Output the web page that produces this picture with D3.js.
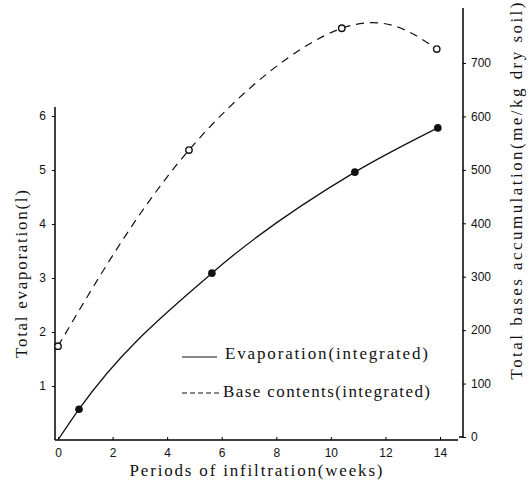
<!DOCTYPE html>
<html>
<head>
<meta charset="utf-8">
<script src="https://cdn.jsdelivr.net/npm/d3@7"></script>
<style>
  body { margin: 0; background: #fff; }
  svg { display: block; }
  .tick text { font-family: "Liberation Sans", Arial, sans-serif; font-size: 12px; fill: #111; }
  .title { font-family: "Liberation Serif", "DejaVu Serif", serif; font-size: 17px; fill: #111; }
</style>
</head>
<body>
<div id="chart"></div>
<script>
var width = 529, height = 483;

// evaporation (integrated), litres, left axis
var evapWeeks = [0, 0.77, 5.64, 10.88, 13.92];
var evapValues = [0, 0.57, 3.09, 4.96, 5.78];
var evapMarked = [false, true, true, true, true];

// base contents (integrated), me/kg dry soil, right axis
var baseWeeks = [0, 4.8, 10.4, 13.88];
var baseValues = [170, 537, 765, 726];

var xTicks = [0, 2, 4, 6, 8, 10, 12, 14];
var yLeftTicks = [1, 2, 3, 4, 5, 6];
var yRightTicks = [0, 100, 200, 300, 400, 500, 600, 700];

var x = d3.scaleLinear().domain([0, 14]).range([58, 440]);
var yL = d3.scaleLinear().domain([0, 6]).range([440, 116]);
var yR = d3.scaleLinear().domain([0, 700]).range([437, 63]);

var svg = d3.select("#chart").append("svg")
  .attr("width", width)
  .attr("height", height);

// bottom axis
var xAxis = svg.append("g")
  .attr("transform", "translate(0,440)")
  .call(d3.axisBottom(x).tickValues(xTicks).tickSize(-3).tickPadding(8).tickSizeOuter(0).tickFormat(d3.format("d")));
xAxis.select(".domain").attr("d", "M55,0H458").attr("stroke-width", 1.5);

// left axis
var leftAxis = svg.append("g")
  .attr("transform", "translate(55,0)")
  .call(d3.axisLeft(yL).tickValues(yLeftTicks).tickSize(3).tickPadding(6).tickSizeOuter(0).tickFormat(d3.format("d")));
leftAxis.select(".domain").attr("d", "M0,107V440").attr("stroke-width", 1.5);

// right axis
var rightAxis = svg.append("g")
  .attr("transform", "translate(463,0)")
  .call(d3.axisRight(yR).tickValues(yRightTicks).tickSize(3).tickPadding(5).tickSizeOuter(0).tickFormat(d3.format("d")));
rightAxis.select(".domain").attr("d", "M-4,437H0V8").attr("stroke-width", 1.5);

// evaporation curve
var evapLine = d3.line()
  .x(function(d, i) { return x(evapWeeks[i]); })
  .y(function(d) { return yL(d); })
  .curve(d3.curveMonotoneX);

svg.append("path")
  .datum(evapValues)
  .attr("fill", "none")
  .attr("stroke", "#111")
  .attr("stroke-width", 1.3)
  .attr("d", evapLine);

svg.append("g").selectAll("circle")
  .data(evapValues.filter(function(d, i) { return evapMarked[i]; }))
  .join("circle")
    .attr("cx", function(d) { return x(evapWeeks[evapValues.indexOf(d)]); })
    .attr("cy", function(d) { return yL(d); })
    .attr("r", 3.8)
    .attr("fill", "#111");

// base contents curve
var baseLine = d3.line()
  .x(function(d, i) { return x(baseWeeks[i]); })
  .y(function(d) { return yR(d); })
  .curve(d3.curveNatural);

svg.append("path")
  .datum(baseValues)
  .attr("fill", "none")
  .attr("stroke", "#111")
  .attr("stroke-width", 1.2)
  .attr("stroke-dasharray", "8,6")
  .attr("d", baseLine);

svg.append("g").selectAll("circle")
  .data(baseValues)
  .join("circle")
    .attr("cx", function(d, i) { return x(baseWeeks[i]); })
    .attr("cy", function(d) { return yR(d); })
    .attr("r", 3.2)
    .attr("fill", "#fff")
    .attr("stroke", "#111")
    .attr("stroke-width", 1.4);

// legend
var legend = svg.append("g");
legend.append("line")
  .attr("x1", 182).attr("x2", 217).attr("y1", 357).attr("y2", 357)
  .attr("stroke", "#111").attr("stroke-width", 1.2);
legend.append("text").attr("class", "title")
  .attr("x", 225).attr("y", 359)
  .attr("textLength", 203).attr("lengthAdjust", "spacing")
  .text("Evaporation(integrated)");
legend.append("line")
  .attr("x1", 182).attr("x2", 220).attr("y1", 393).attr("y2", 393)
  .attr("stroke", "#111").attr("stroke-width", 1.2)
  .attr("stroke-dasharray", "5,3");
legend.append("text").attr("class", "title")
  .attr("x", 223).attr("y", 397)
  .attr("textLength", 207).attr("lengthAdjust", "spacing")
  .text("Base contents(integrated)");

// axis titles
svg.append("text").attr("class", "title")
  .attr("x", 256).attr("y", 476)
  .attr("text-anchor", "middle")
  .attr("textLength", 253).attr("lengthAdjust", "spacing")
  .text("Periods of infiltration(weeks)");

svg.append("text").attr("class", "title")
  .attr("transform", "translate(27,274) rotate(-90)")
  .attr("text-anchor", "middle")
  .attr("textLength", 168).attr("lengthAdjust", "spacing")
  .text("Total evaporation(l)");

svg.append("text").attr("class", "title")
  .attr("transform", "translate(522,191) rotate(-90)")
  .attr("text-anchor", "middle")
  .attr("textLength", 377).attr("lengthAdjust", "spacing")
  .text("Total bases accumulation(me/kg dry soil)");
</script>
</body>
</html>
